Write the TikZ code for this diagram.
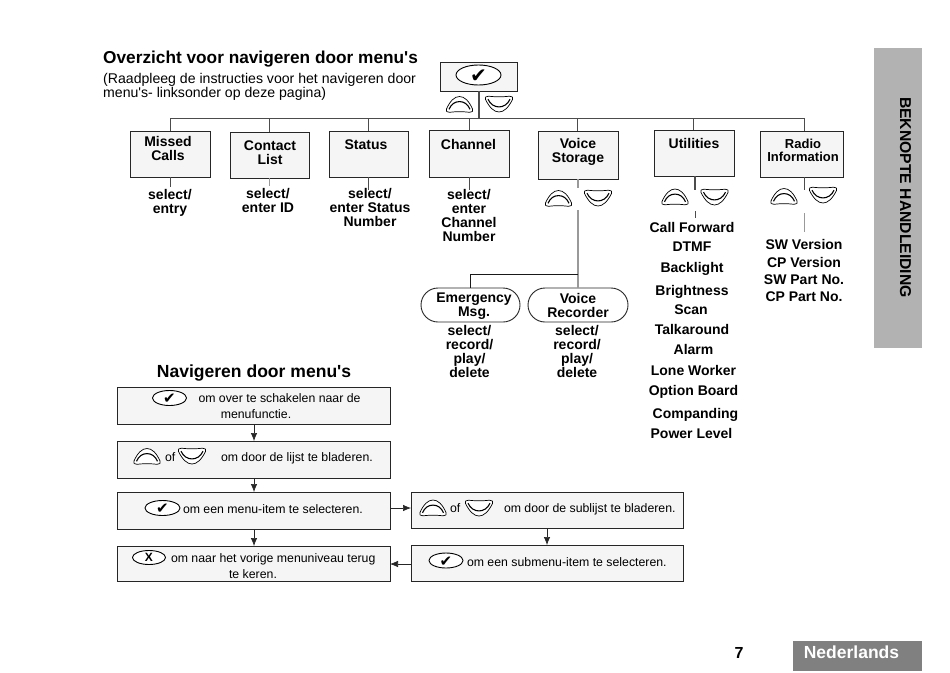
\documentclass[tikz,border=0pt]{standalone}
\usepackage{fontspec}
\setmainfont{Liberation Sans}
\newfontfamily\symf{DejaVu Sans}
\newfontfamily\straight{Liberation Sans}
\usetikzlibrary{arrows.meta,shapes.geometric}
\newcommand{\fs}[1]{\fontsize{#1}{#1}\selectfont}
\newcommand{\ck}[1]{\makebox[0pt]{\smash{\raisebox{-0.37\dimexpr #1pt\relax}{\symf\fs{#1}\bfseries ✔}}}}
\newcommand{\bx}[6][box]{\node[#1,minimum width={(#5-#3)*1pt},minimum height={(#6-#4)*1pt}] (#2) at ({(#3+#5)/2},{(#4+#6)/2}) {};}
\tikzset{
  box/.style={draw=black!85,line width=1pt,fill=black!4,inner sep=0,outer sep=0},
  capsule/.style={draw=black!85,line width=0.9pt,fill=white,rounded corners=17pt,inner sep=0,outer sep=0},
  lbl/.style={inner sep=0,outer sep=0,align=center,font=\bfseries\fs{14}},
  item/.style={inner sep=0,outer sep=0,font=\bfseries\fs{14}},
  body/.style={inner sep=0,outer sep=0,anchor=west,font=\fs{12.3}},
  capline/.style={inner sep=0,outer sep=0,font=\fs{12.3}},
  oval/.style={ellipse,draw=black,line width=0.9pt,fill=white,inner sep=0,outer sep=0},
  wire/.style={draw=black!70,line width=1pt},
  wirelight/.style={draw=black!40,line width=1pt},
  wiredark/.style={draw=black!90,line width=1pt},
  flow/.style={draw=black!85,line width=0.7pt,-{Latex[length=8pt,width=6.5pt]}},
  upkey/.pic={
    \draw[line width=0.7pt,fill=white] (-13,4.5) .. controls (-9.5,-3.5) and (-5,-8) .. (0,-8) .. controls (5,-8) and (9.5,-3.5) .. (13,4.5) .. controls (14.2,6.8) and (12.5,7.8) .. (10,7.8) .. controls (4,7) and (-4,7) .. (-10,7.8) .. controls (-12.5,7.8) and (-14.2,6.8) .. (-13,4.5) -- cycle;
    \draw[line width=1.1pt] (-10.5,4.8) .. controls (-6.5,-5.5) and (6.5,-5.5) .. (10.5,4.8);
  },
  downkey/.pic={
    \draw[line width=0.7pt,fill=white] (-13.5,-4.5) .. controls (-9.5,3.5) and (-5,8) .. (0,8) .. controls (5,8) and (9.5,3.5) .. (13.5,-4.5) .. controls (14.7,-6.8) and (13,-7.8) .. (10.5,-7.8) .. controls (4,-7) and (-4,-7) .. (-10.5,-7.8) .. controls (-13,-7.8) and (-14.7,-6.8) .. (-13.5,-4.5) -- cycle;
    \draw[line width=1.1pt] (-11,-4.8) .. controls (-6.5,5.5) and (6.5,5.5) .. (11,-4.8);
  }
}
\begin{document}
\begin{tikzpicture}[x=1pt,y=-1pt]
\useasboundingbox[fill=white] (0,0) rectangle (950,672);
% side tabs
\fill[black!30] (873.5,48) rectangle (922,348);
\node[inner sep=0,rotate=270,font=\bfseries\fs{15.7}] (side) at (905.5,197.5) {BEKNOPTE HANDLEIDING};
\fill[black!50] (793,641) rectangle (922,671);
\node[inner sep=0,text=white,font=\bfseries\fs{17.5}] (lang) at (851.5,652) {Nederlands};
\node[inner sep=0,font=\bfseries\fs{16}] (page) at (739,652.5) {7};
% titles
\node[inner sep=0,anchor=west,font=\straight\bfseries\fs{17.25}] (t1) at (103,59) {Overzicht voor navigeren door menu's};
\node[inner sep=0,anchor=north west,align=left,font=\straight\fontsize{14.1}{13.9}\selectfont] (t2) at (103,73.5) {(Raadpleeg de instructies voor het navigeren door\\menu's- linksonder op deze pagina)};
\node[inner sep=0,font=\straight\bfseries\fs{17.55}] (t3) at (254,373) {Navigeren door menu's};
% top box
\bx{top}{440}{62.5}{517}{91}
\node[oval,minimum width=45pt,minimum height=20pt] (topok) at (478.5,75) {\ck{20}};
\pic at (459.5,104.5) {upkey};
\pic at (499,104) {downkey};
% menu boxes
\bx{missed}{130}{131}{210}{177}
\bx{contact}{230}{132}{309.5}{178}
\bx{status}{329}{131}{408.5}{177}
\bx{channel}{429}{130}{509}{177}
\bx{voice}{538}{131}{618}{179}
\bx{util}{654}{130}{734}{176}
\bx{radio}{760}{131}{843}{177}
\node[lbl] at (168,148) (lmissed) {Missed\\Calls};
\node[lbl] at (270,153) (lcontact) {Contact\\List};
\node[lbl] at (366,145) (lstatus) {Status};
\node[lbl] at (468.5,144) (lchannel) {Channel};
\node[lbl] at (578,152) (lvoice) {Voice\\Storage};
\node[lbl] at (694,143) (lutil) {Utilities};
\node[lbl,font=\bfseries\fontsize{13}{12.5}\selectfont] at (803,150.5) (lradio) {Radio\\Information};
% bus
\coordinate (busL) at (170,118);
\coordinate (busR) at (804,118);
\coordinate (busTop) at (479,118);
\draw[wire] (busL) -- (busR);
\draw[wire,line width=1.3pt] (479,91) -- (busTop);
\foreach \n/\dx in {missed/0,contact/0,status/0,channel/0,voice/-1,util/-1,radio/2.5}
  \draw[wire] ([xshift=\dx pt]\n.north |- busL) -- ([xshift=\dx pt]\n.north);
% tails
\coordinate (e1) at (170,187);
\coordinate (e2) at (269.75,186);
\coordinate (e3) at (368.75,190);
\coordinate (e4) at (469,190);
\coordinate (e5) at (578,188);
\coordinate (e6) at (695,190);
\coordinate (e7) at (804,190);
\draw[wire] (missed.south) -- (e1);
\draw[wirelight] (contact.south) -- (e2);
\draw[wire] (status.south) -- (e3);
\draw[wire] (channel.south) -- (e4);
\draw[wirelight,line width=1.2pt] (voice.south) -- (e5);
\draw[wire,line width=1.2pt] (695,176) -- (e6);
\draw[wire] (695,211) -- (695,218);
\draw[wire] (804,177) -- (e7);
\draw[wirelight] (804,213) -- (804,232);
% keys
\pic at (558.5,198.5) {upkey};
\pic at (598,198) {downkey};
\pic at (675,197) {upkey};
\pic at (714.5,197) {downkey};
\pic at (784,196.5) {upkey};
\pic at (823,195) {downkey};
% labels below
\node[lbl] (s1) at (170,203) {select/\\entry};
\node[lbl] (s2) at (268,200) {select/\\enter ID};
\node[lbl] (s3) at (370,207) {select/\\enter Status\\Number};
\node[lbl] (s4) at (469,215) {select/\\enter\\Channel\\Number};
% voice capsules
\node[capsule,minimum width=99pt,minimum height=34pt] (emerg) at (470.5,305) {};
\node[capsule,minimum width=100pt,minimum height=34pt] (recorder) at (578,305) {};
\node[lbl] (lemerg) at (474,306.5) {Emergency\\Msg.};
\node[lbl] (lrec) at (578,305) {Voice\\Recorder};
\coordinate (split) at (578,274);
\coordinate (splitL) at (470.5,274);
\draw[wirelight,line width=1.2pt] (578,210) -- (recorder.north);
\draw[wiredark] (split) -- (splitL) -- (emerg.north);
\node[lbl] (s5) at (469.5,351) {select/\\record/\\play/\\delete};
\node[lbl] (s6) at (577,351) {select/\\record/\\play/\\delete};
% utilities list
\node[item] (u1) at (692,227) {Call Forward};
\node[item] (u2) at (692,247) {DTMF};
\node[item] (u3) at (692,268.5) {Backlight};
\node[item] (u4) at (692,292) {Brightness};
\node[item] (u5) at (691,309.5) {Scan};
\node[item] (u6) at (692,329) {Talkaround};
\node[item] (u7) at (693.5,349) {Alarm};
\node[item] (u8) at (693.5,370) {Lone Worker};
\node[item] (u9) at (693.5,392) {Option Board};
\node[item] (u10) at (695.5,415) {Companding};
\node[item] (u11) at (691.5,433) {Power Level};
% radio list
\node[item] (r1) at (804,244.5) {SW Version};
\node[item] (r2) at (804,262) {CP Version};
\node[item] (r3) at (804,279.5) {SW Part No.};
\node[item] (r4) at (804,296.5) {CP Part No.};
% flow boxes
\bx{f1}{117}{387}{390}{424}
\bx{f2}{117}{441}{390}{478}
\bx{f3}{117}{492}{390}{529}
\bx{f4}{117}{546}{390}{581}
\bx{g1}{411}{492}{683}{528}
\bx{g2}{411}{545}{683}{581}
\draw[flow] ([xshift=0.5pt]f1.south) -- ([xshift=0.5pt]f2.north);
\draw[flow] ([xshift=0.5pt]f2.south) -- ([xshift=0.5pt]f3.north);
\draw[flow] ([xshift=0.5pt]f3.south) -- ([xshift=0.5pt]f4.north);
\draw[flow] (g1.south) -- (g2.north);
\draw[flow] ([yshift=2.5pt]f3.east) -- ([yshift=2.5pt]f3.east -| g1.west);
\draw[flow] ([yshift=-1pt]g2.west) -- ([yshift=-1pt]g2.west -| f4.east);
% flow contents
\node[oval,minimum width=34pt,minimum height=15pt] (o1) at (169.5,398) {\ck{15}};
\node[body] (b1) at (198.5,398) {om over te schakelen naar de};
\node[capline] (b1b) at (256,414) {menufunctie.};
\pic at (147,456.5) {upkey};
\node[body] (of1) at (165,457) {of};
\pic at (192,456) {downkey};
\node[body] (b2) at (221,458) {om door de lijst te bladeren.};
\node[oval,minimum width=35pt,minimum height=15pt] (o3) at (162.5,508) {\ck{15}};
\node[body] (b3) at (183,509.5) {om een menu-item te selecteren.};
\node[oval,minimum width=33pt,minimum height=14pt,font=\bfseries\fs{12}] (o4) at (149,557.5) {X};
\node[body] (b4) at (171,559.5) {om naar het vorige menuniveau terug};
\node[capline] (b4b) at (253,574.5) {te keren.};
\pic at (433,508) {upkey};
\node[body] (of2) at (450,508.5) {of};
\pic at (479,508) {downkey};
\node[body] (b5) at (504,509.5) {om door de sublijst te bladeren.};
\node[oval,minimum width=34pt,minimum height=15pt] (o6) at (446,560.5) {\ck{15}};
\node[body] (b6) at (467,562.5) {om een submenu-item te selecteren.};
\end{tikzpicture}
\end{document}
